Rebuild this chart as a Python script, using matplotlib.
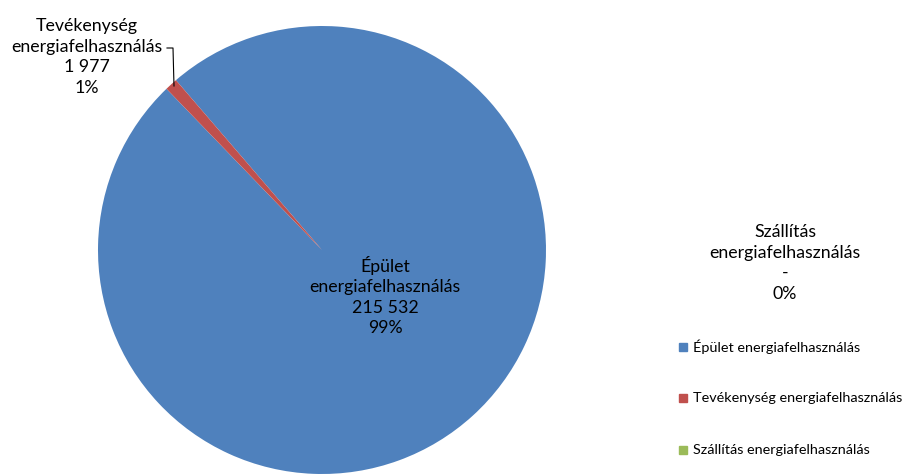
import matplotlib
matplotlib.use("Agg")
import matplotlib.pyplot as plt
from matplotlib.lines import Line2D

categories = ["Épület energiafelhasználás",
              "Tevékenység energiafelhasználás",
              "Szállítás energiafelhasználás"]
label_names = ["Épület\nenergiafelhasználás",
               "Tevékenység\nenergiafelhasználás",
               "Szállítás\nenergiafelhasználás"]
values = [215532, 1977, 0]
colors = ["#4F81BD", "#C0504D", "#9BBB59"]

plt.rcParams["font.family"] = ["Lato", "DejaVu Sans"]

W, H = 910, 476
fig = plt.figure(figsize=(W / 100, H / 100), dpi=100)

# pie centre (322, 250) px, radius 224 px
cx, cy, r = 322, 250, 224
ax = fig.add_axes([(cx - r) / W, (H - cy - r) / H, 2 * r / W, 2 * r / H])
ax.pie(values, colors=colors, startangle=130.7, counterclock=False,
       radius=1.0, wedgeprops=dict(linewidth=0))
ax.set_xlim(-1, 1)
ax.set_ylim(-1, 1)
ax.set_aspect("equal")
ax.axis("off")

total = sum(values)


def fmt_val(v):
    return "-" if v == 0 else f"{v:,}".replace(",", " ")


def label_text(i):
    pct = round(values[i] / total * 100)
    return f"{label_names[i]}\n{fmt_val(values[i])}\n{pct}%"


fs = 12.8
ls = 1.35
fig.text(385 / W, 1 - 296 / H, label_text(0), ha="center", va="center",
         fontsize=fs, color="#000000", linespacing=ls)
fig.text(87 / W, 1 - 57 / H, label_text(1), ha="center", va="center",
         fontsize=fs, color="#000000", linespacing=ls)
fig.text(785 / W, 1 - 263 / H, label_text(2), ha="center", va="center",
         fontsize=fs, color="#000000", linespacing=ls)

# leader line for the small slice
fig.add_artist(Line2D([167 / W, 173 / W, 174 / W],
                      [1 - 48 / H, 1 - 48 / H, 1 - 86 / H],
                      color="#000000", linewidth=0.8))

# legend
legend_y = [347, 398, 450]
for name, col, y in zip(categories, colors, legend_y):
    fig.patches.append(plt.Rectangle((679 / W, 1 - (y + 4) / H), 8 / W, 8 / H,
                                     transform=fig.transFigure, color=col))
    fig.text(693 / W, 1 - y / H, name, ha="left", va="center",
             fontsize=10.4, color="#000000")

fig.savefig("out.png", dpi=100)
